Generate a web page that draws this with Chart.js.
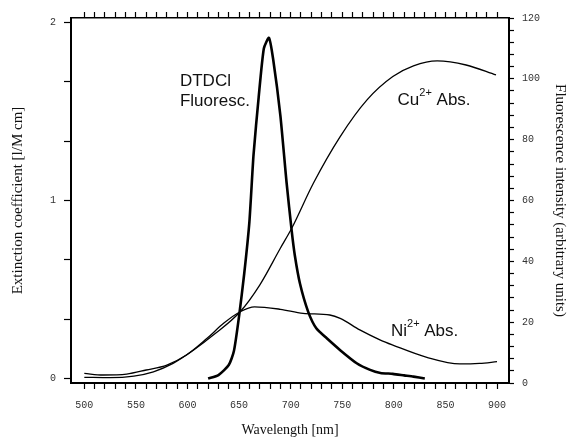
<!DOCTYPE html>
<html>
<head>
<meta charset="utf-8">
<title>Cu2+ / Ni2+ absorption and DTDCI fluorescence</title>
<script src="https://cdn.jsdelivr.net/npm/chart.js@4.4.1/dist/chart.umd.min.js"></script>
<style>
  html, body { margin: 0; padding: 0; background: #fff; }
  #wrap { width: 569px; height: 439px; }
</style>
</head>
<body>
<div id="wrap"><canvas id="chart" width="569" height="439"></canvas></div>
<script>
// DTDCI fluorescence (right axis, arbitrary units)
var fluorWl = [620, 630, 640, 645, 650, 655, 660, 664, 669, 674, 679, 683, 690, 696, 701, 704, 709, 717, 725, 735, 748, 764, 777, 787, 799, 810, 819, 830];
var fluorVal = [1.5, 2.6, 5.9, 10.5, 22, 36, 53, 75, 94, 110, 113.5, 106.5, 88, 66, 50, 42, 32.7, 23.4, 17.9, 14.7, 10.8, 6.5, 4.3, 3.3, 3.0, 2.5, 2.1, 1.5];

// Cu2+ absorption (left axis, l/M cm)
var cuWl = [500, 525, 548, 567, 586, 606, 625, 651, 670, 690, 701, 722, 748, 774, 799, 819, 842, 870, 899];
var cuVal = [0.008, 0.006, 0.015, 0.039, 0.086, 0.161, 0.245, 0.376, 0.526, 0.733, 0.845, 1.098, 1.36, 1.566, 1.697, 1.757, 1.785, 1.762, 1.706];

// Ni2+ absorption (left axis, l/M cm)
var niWl = [500, 518, 541, 560, 580, 599, 619, 635, 651, 665, 690, 712, 738, 748, 767, 787, 799, 832, 864, 883, 900];
var niVal = [0.030, 0.021, 0.026, 0.049, 0.077, 0.133, 0.227, 0.311, 0.376, 0.404, 0.39, 0.367, 0.358, 0.339, 0.274, 0.217, 0.189, 0.12, 0.083, 0.086, 0.096];

// tick labels
var xLabels = [500, 550, 600, 650, 700, 750, 800, 850, 900];
var yLeftLabels = [0, 1, 2];
var yRightLabels = [0, 20, 40, 60, 80, 100, 120];

function toPoints(xs, ys) {
  return xs.map(function(x, i) { return { x: x, y: ys[i] }; });
}

function range(from, to, step) {
  var out = [];
  for (var v = from; v <= to + 1e-9; v += step) out.push({ value: Math.round(v * 1000) / 1000 });
  return out;
}

var tickFont = { family: 'Liberation Mono', size: 10 };
var titleFont = { family: 'Liberation Serif', size: 15 };

// text labels drawn next to the curves
var notes = [
  { x: 592.7, y: 1.644, parts: [['DTDCl', 0]] },
  { x: 592.7, y: 1.532, parts: [['Fluoresc.', 0]] },
  { x: 803.6, y: 1.538, parts: [['Cu', 0], ['2+', 1], [' Abs.', 0]] },
  { x: 797.2, y: 0.240, parts: [['Ni', 0], ['2+', 1], [' Abs.', 0]] }
];

var notesPlugin = {
  id: 'notes',
  afterDatasetsDraw: function(chart) {
    var ctx = chart.ctx;
    var xs = chart.scales.x, ys = chart.scales.y;
    ctx.save();
    ctx.fillStyle = '#111';
    ctx.textBaseline = 'alphabetic';
    notes.forEach(function(n) {
      var px = xs.getPixelForValue(n.x);
      var py = ys.getPixelForValue(n.y);
      n.parts.forEach(function(p) {
        if (p[1]) {
          ctx.font = '11px "Liberation Sans", Arial, sans-serif';
          ctx.fillText(p[0], px, py - 9);
        } else {
          ctx.font = '17px "Liberation Sans", Arial, sans-serif';
          ctx.fillText(p[0], px, py);
        }
        px += ctx.measureText(p[0]).width;
      });
    });
    ctx.restore();
  }
};

var ctx = document.getElementById('chart').getContext('2d');
new Chart(ctx, {
  type: 'scatter',
  data: {
    datasets: [
      {
        label: 'DTDCI Fluoresc.',
        data: toPoints(fluorWl, fluorVal),
        yAxisID: 'y2',
        showLine: true,
        borderColor: '#000',
        borderWidth: 2.6,
        pointRadius: 0,
        tension: 0.2
      },
      {
        label: 'Cu2+ Abs.',
        data: toPoints(cuWl, cuVal),
        yAxisID: 'y',
        showLine: true,
        borderColor: '#000',
        borderWidth: 1.3,
        pointRadius: 0,
        cubicInterpolationMode: 'monotone'
      },
      {
        label: 'Ni2+ Abs.',
        data: toPoints(niWl, niVal),
        yAxisID: 'y',
        showLine: true,
        borderColor: '#000',
        borderWidth: 1.3,
        pointRadius: 0,
        cubicInterpolationMode: 'monotone'
      }
    ]
  },
  options: {
    responsive: false,
    animation: false,
    layout: { padding: 0 },
    plugins: {
      legend: { display: false },
      tooltip: { enabled: false }
    },
    scales: {
      x: {
        type: 'linear',
        position: 'bottom',
        min: 487.1,
        max: 911.6,
        afterBuildTicks: function(s) { s.ticks = range(500, 900, 10); },
        afterFit: function(s) { s.height = 56; },
        ticks: {
          autoSkip: false,
          maxRotation: 0,
          padding: 10,
          color: '#333',
          font: tickFont,
          callback: function(v) { return xLabels.indexOf(v) >= 0 ? String(v) : ''; }
        },
        grid: { drawOnChartArea: false, tickLength: 6, color: '#000', tickWidth: 1.2 },
        border: { color: '#000', width: 2 },
        title: {
          display: true,
          text: 'Wavelength [nm]',
          color: '#111',
          font: { family: 'Liberation Serif', size: 14 },
          padding: { top: 0, bottom: 0 }
        }
      },
      xTop: {
        type: 'linear',
        position: 'top',
        min: 487.1,
        max: 911.6,
        afterBuildTicks: function(s) { s.ticks = range(500, 900, 10); },
        afterFit: function(s) { s.height = 18; },
        ticks: { display: false, autoSkip: false },
        grid: { drawOnChartArea: false, tickLength: 6, color: '#000', tickWidth: 1.2 },
        border: { color: '#000', width: 1.5 }
      },
      y: {
        type: 'linear',
        position: 'left',
        min: -0.024,
        max: 2.026,
        afterBuildTicks: function(s) { s.ticks = range(0, 2, 1 / 3); },
        afterFit: function(s) { s.width = 71; },
        ticks: {
          padding: 8,
          color: '#333',
          font: tickFont,
          callback: function(v) {
            var r = Math.round(v);
            return (Math.abs(v - r) < 1e-6 && yLeftLabels.indexOf(r) >= 0) ? String(r) : '';
          }
        },
        grid: { drawOnChartArea: false, tickLength: 7, color: '#000', tickWidth: 1.2 },
        border: { color: '#000', width: 2 },
        title: {
          display: true,
          text: 'Extinction coefficient [l/M cm]',
          color: '#111',
          font: titleFont,
          padding: { top: 9, bottom: 0 }
        }
      },
      y2: {
        type: 'linear',
        position: 'right',
        min: 0,
        max: 120,
        afterBuildTicks: function(s) { s.ticks = range(0, 120, 4); },
        afterFit: function(s) { s.width = 60; },
        ticks: {
          autoSkip: false,
          padding: 8,
          color: '#333',
          font: tickFont,
          callback: function(v) { return yRightLabels.indexOf(v) >= 0 ? String(v) : ''; }
        },
        grid: { drawOnChartArea: false, tickLength: 5, color: '#000', tickWidth: 1.2 },
        border: { color: '#000', width: 2 },
        title: {
          display: true,
          text: 'Fluorescence intensity (arbitrary units)',
          color: '#111',
          font: titleFont,
          padding: { top: 0, bottom: 0 }
        }
      }
    }
  },
  plugins: [notesPlugin]
});
</script>
</body>
</html>
